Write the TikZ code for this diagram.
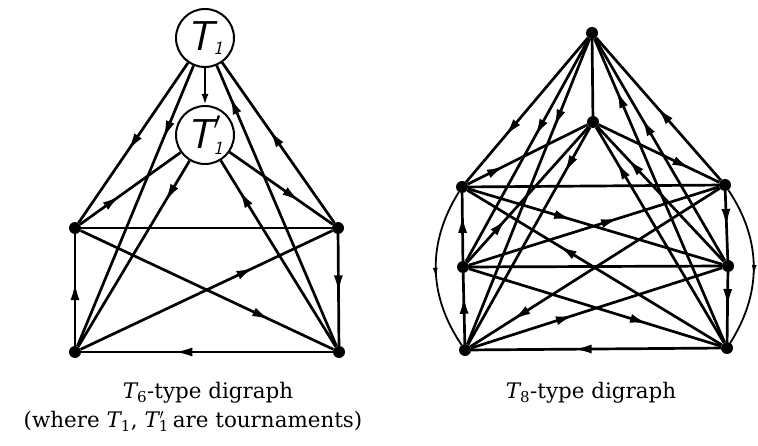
\documentclass[tikz,border=0pt]{standalone}
\usepackage{fontspec}
\newfontfamily\capfont{DejaVu Serif}
\usetikzlibrary{arrows.meta,decorations.markings}
\tikzset{
  edge/.style={line width=2.7bp},
  vdot/.style={circle,fill,inner sep=0pt,minimum size=12bp},
  tnode/.style={circle,draw,line width=2bp,minimum size=58bp,inner sep=0pt},
  am/.style={postaction={decorate},decoration={markings,
      mark=at position #1 with {\arrow{Latex[length=18bp,width=9bp]}}}},
  amsmall/.style={postaction={decorate},decoration={markings,
      mark=at position #1 with {\arrow{Latex[length=11bp,width=5bp]}}}},
  captxt/.style={font=\capfont\fontsize{21.5}{24}\selectfont,inner sep=0pt},
}
\newcommand{\TLabel}[1]{{\fontsize{42}{42}\selectfont$\hbox{\sffamily\itshape T}#1_{\hbox{\fontsize{19}{19}\selectfont\sffamily\itshape 1}}$}}
\begin{document}
\begin{tikzpicture}[x=1bp,y=-1bp]
\path[use as bounding box] (0,0) rectangle (758,446);

% ---------- left: T6-type ----------
\node[tnode] (T1)  at (205,38)  {\TLabel{}};
\node[tnode] (T1p) at (205,135) {\TLabel{'}};
\node[vdot] (TL) at (75,228) {};
\node[vdot] (TR) at (338,228) {};
\node[vdot] (BL) at (75,352) {};
\node[vdot] (BR) at (339,352) {};

\draw[edge,-{Latex[length=11bp,width=7bp]}] (T1) -- (T1p);
\draw[edge,am=0.55] (T1) -- (TL);
\draw[edge,am=0.26] (T1) -- (BL);
\draw[edge,am=0.89] (BR) -- (T1);
\draw[edge,am=0.58] (TR) -- (T1);
\draw[edge,am=0.40] (TL) -- (T1p);
\draw[edge,am=0.22] (T1p) -- (BL);
\draw[edge,am=0.84] (BR) -- (T1p);
\draw[edge,am=0.68] (T1p) -- (TR);
\draw[edge] (TL) -- (TR);
\draw[edge,am=0.75] (TL) -- (BR);
\draw[edge,am=0.69] (BL) -- (TR);
\draw[edge,am=0.57] (BL) -- (TL);
\draw[edge,am=0.53] (TR) -- (BR);
\draw[edge,am=0.63] (BR) -- (BL);

% ---------- right: T8-type ----------
\node[vdot] (T) at (592,33) {};
\node[vdot] (I) at (593,122) {};
\node[vdot] (UL) at (462,187) {};
\node[vdot] (UR) at (725,185) {};
\node[vdot] (ML) at (463,267) {};
\node[vdot] (MR) at (728,266) {};
\node[vdot] (LL) at (465,350) {};
\node[vdot] (LR) at (727,348) {};

\draw[edge,am=0.68] (T) -- (UL);
\draw[edge,am=0.44] (T) -- (ML);
\draw[edge,am=0.29] (T) -- (LL);
\draw[edge,am=0.51] (UR) -- (T);
\draw[edge,am=0.64] (MR) -- (T);
\draw[edge,am=0.83] (LR) -- (T);
\draw[edge] (T) -- (I);

\draw[edge,am=0.31] (UL) -- (I);
\draw[edge,am=0.32] (ML) -- (I);
\draw[edge,am=0.21] (I) -- (LL);
\draw[edge,am=0.76] (I) -- (UR);
\draw[edge,am=0.84] (LR) -- (I);
\draw[edge,am=0.76] (MR) -- (I);

\draw[edge] (UL) -- (UR);
\draw[edge] (ML) -- (MR);
\draw[edge,am=0.59] (LR) -- (LL);
\draw[edge,am=0.68] (ML) -- (UL);
\draw[edge,am=0.68] (LL) -- (ML);
\draw[edge,am=0.52] (UR) -- (MR);
\draw[edge,am=0.50] (MR) -- (LR);
\draw[edge,am=0.41] (UL) -- (MR);
\draw[edge,am=0.64] (LR) -- (UL);
\draw[edge,am=0.60] (ML) -- (UR);
\draw[edge,am=0.83] (UR) -- (LL);
\draw[edge,am=0.41] (LL) -- (MR);
\draw[edge,am=0.71] (ML) -- (LR);
\draw[line width=1.8bp,amsmall=0.56] (UL) to[bend right=33] (LL);
\draw[line width=1.8bp,amsmall=0.56] (UR) to[bend left=33] (LR);

% ---------- captions ----------
\node[captxt] (c1) at (208,393) {{\itshape T}\textsubscript{6}-type digraph};
\node[captxt] (c2) at (193,421) {(where {\itshape T}\textsubscript{1}, {\itshape T}\textsubscript{1}\kern-0.55em\textsuperscript{\,$\prime$}\kern0.1em{} are tournaments)};
\node[captxt] (c3) at (591,393) {{\itshape T}\textsubscript{8}-type digraph};
\end{tikzpicture}
\end{document}
